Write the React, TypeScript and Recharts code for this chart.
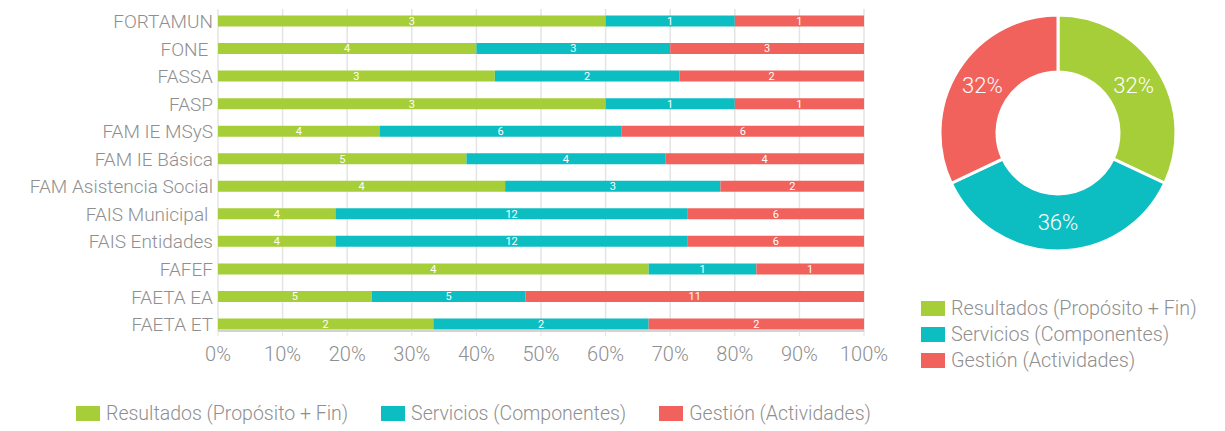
import React from 'react';
import { BarChart, Bar, XAxis, YAxis, CartesianGrid, LabelList, PieChart, Pie, Cell } from 'recharts';

const categories = ['FORTAMUN', 'FONE ', 'FASSA', 'FASP', 'FAM IE MSyS', 'FAM IE Básica', 'FAM Asistencia Social', 'FAIS Municipal ', 'FAIS Entidades', 'FAFEF', 'FAETA EA', 'FAETA ET'];
const resultados = [3, 4, 3, 3, 4, 5, 4, 4, 4, 4, 5, 2];
const servicios = [1, 3, 2, 1, 6, 4, 3, 12, 12, 1, 5, 2];
const gestion = [1, 3, 2, 1, 6, 4, 2, 6, 6, 1, 11, 2];
const seriesKeys = ['resultados', 'servicios', 'gestion'];
const seriesNames = ['Resultados (Propósito + Fin)', 'Servicios (Componentes)', 'Gestión (Actividades)'];
const seriesColors = ['#a6ce39', '#0cbdc2', '#f1625c'];
const xTicks = [0, 0.1, 0.2, 0.3, 0.4, 0.5, 0.6, 0.7, 0.8, 0.9, 1];
const pieValues = [32, 36, 32];

const barData = categories.map((c, i) => ({
  name: c,
  resultados: resultados[i],
  servicios: servicios[i],
  gestion: gestion[i],
}));
const pieData = seriesNames.map((n, i) => ({ name: n, value: pieValues[i] }));

const FONT = 'Roboto, "Noto Sans", sans-serif';
const TEXT_COLOR = '#8f8f8f';

const YTick = (props: any) => {
  const { x, y, payload } = props;
  return (
    <text x={x} y={y} dy="0.36em" textAnchor="end" fill={TEXT_COLOR} fontSize={19} fontWeight={300} fontFamily={FONT} style={{ whiteSpace: 'pre' }}>
      {payload.value}
    </text>
  );
};

const RADIAN = Math.PI / 180;
const pieLabel = (p: any) => {
  const { cx, cy, midAngle, innerRadius, outerRadius, percent } = p;
  const r = (innerRadius + outerRadius) / 2;
  const x = cx + r * Math.cos(-midAngle * RADIAN);
  const y = cy + r * Math.sin(-midAngle * RADIAN);
  return (
    <text x={x} y={y} fill="#fff" textAnchor="middle" dominantBaseline="central" fontSize={22} fontWeight={300} fontFamily={FONT}>
      {`${Math.round(percent * 100)}%`}
    </text>
  );
};

const LegendItem = ({ color, label, size }: { color: string; label: string; size: number }) => (
  <div style={{ display: 'flex', alignItems: 'center', height: 26 }}>
    <div style={{ width: 24, height: 15, background: color, marginRight: 6, flexShrink: 0 }} />
    <span style={{ fontFamily: FONT, fontWeight: 300, fontSize: size, color: TEXT_COLOR, whiteSpace: 'nowrap' }}>{label}</span>
  </div>
);

export default function App() {
  return (
    <div style={{ position: 'absolute', left: 0, top: 0, width: 1225, height: 431, background: '#fff', overflow: 'hidden' }}>
      <div style={{ position: 'absolute', left: 0, top: 0 }}>
        <BarChart
          width={900}
          height={431}
          data={barData}
          layout="vertical"
          stackOffset="expand"
          margin={{ top: 9, right: 36, bottom: 0, left: 0 }}
          barSize={11}
        >
          <XAxis
            type="number"
            domain={[0, 1]}
            ticks={xTicks}
            tickFormatter={(v: number) => `${Math.round(v * 100)}%`}
            height={100}
            axisLine={{ stroke: '#c4c4c4', strokeWidth: 1.5 }}
            tickLine={{ stroke: '#e2e2e2' }}
            tickSize={5}
            tickMargin={11}
            tick={{ fill: TEXT_COLOR, fontSize: 20, fontWeight: 300, fontFamily: FONT }}
            interval={0}
          />
          <YAxis
            type="category"
            dataKey="name"
            width={218}
            axisLine={false}
            tickLine={false}
            tickSize={0}
            tickMargin={5}
            tick={<YTick />}
            interval={0}
            padding={{ top: -1.5, bottom: -7 }}
          />
          {seriesKeys.map((k, i) => (
            <Bar key={k} dataKey={k} name={seriesNames[i]} stackId="a" fill={seriesColors[i]} isAnimationActive={false}>
              <LabelList dataKey={k} position="center" fill="#fff" fontSize={11} fontFamily={FONT} />
            </Bar>
          ))}
          <CartesianGrid horizontal={false} stroke="#e4e4e4" strokeWidth={1.5} />
        </BarChart>
      </div>
      <div style={{ position: 'absolute', left: 900, top: 0 }}>
        <PieChart width={325} height={300}>
          <Pie
            data={pieData}
            dataKey="value"
            cx={153}
            cy={128}
            innerRadius={61}
            outerRadius={118}
            startAngle={90}
            endAngle={-270}
            stroke="#fff"
            strokeWidth={3}
            label={pieLabel}
            labelLine={false}
            isAnimationActive={false}
          >
            {pieData.map((d, i) => (
              <Cell key={d.name} fill={seriesColors[i]} />
            ))}
          </Pie>
        </PieChart>
      </div>
      <div style={{ position: 'absolute', left: 921, top: 295 }}>
        {seriesNames.map((n, i) => (
          <LegendItem key={n} color={seriesColors[i]} label={n} size={19.8} />
        ))}
      </div>
      <div style={{ position: 'absolute', left: 76, top: 400, display: 'flex', gap: 33 }}>
        {seriesNames.map((n, i) => (
          <LegendItem key={n} color={seriesColors[i]} label={n} size={19.5} />
        ))}
      </div>
    </div>
  );
}
